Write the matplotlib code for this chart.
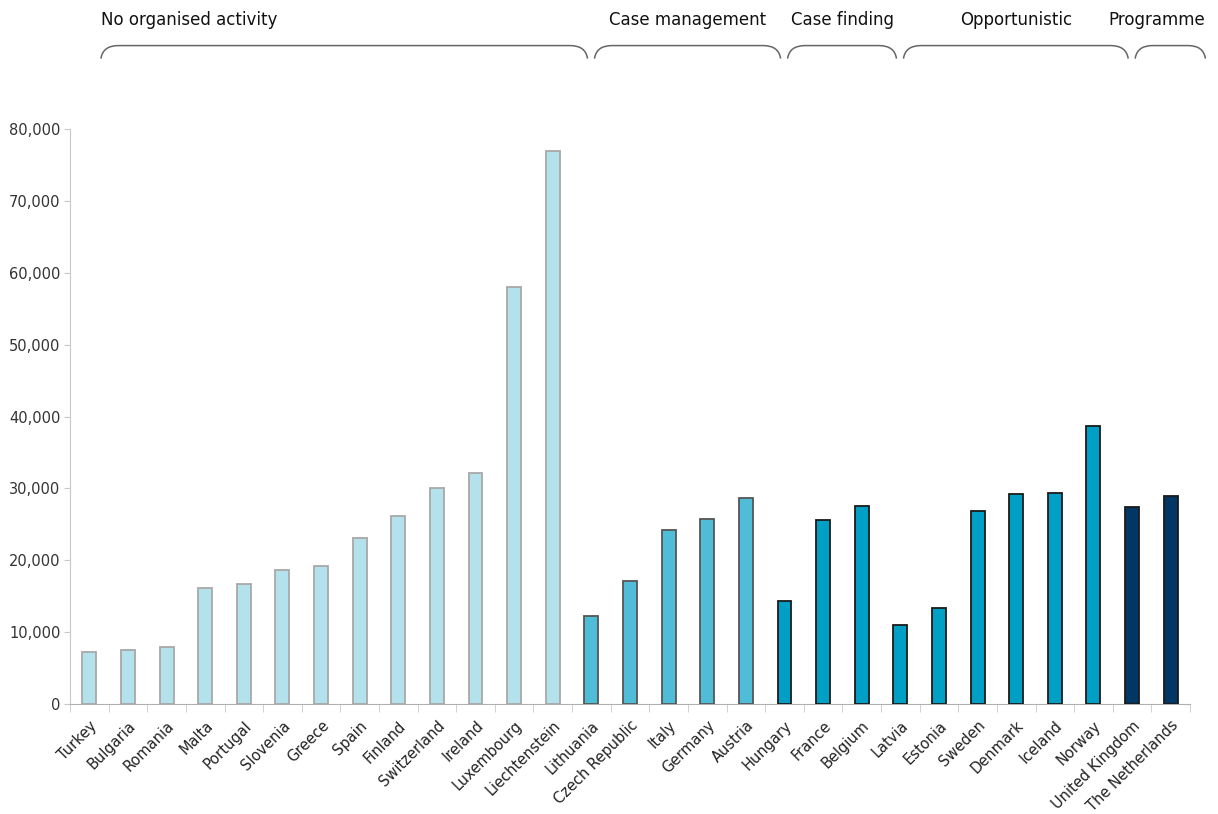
import numpy as np
import matplotlib
matplotlib.use('Agg')
import matplotlib.pyplot as plt
from matplotlib.path import Path
from matplotlib.patches import PathPatch
from matplotlib.ticker import FuncFormatter, FixedLocator

countries = ['Turkey', 'Bulgaria', 'Romania', 'Malta', 'Portugal', 'Slovenia', 'Greece',
             'Spain', 'Finland', 'Switzerland', 'Ireland', 'Luxembourg', 'Liechtenstein',
             'Lithuania', 'Czech Republic', 'Italy', 'Germany', 'Austria',
             'Hungary', 'France', 'Belgium',
             'Latvia', 'Estonia', 'Sweden', 'Denmark', 'Iceland', 'Norway',
             'United Kingdom', 'The Netherlands']
values = [7200, 7500, 8000, 16100, 16700, 18700, 19200, 23100, 26200, 30000, 32100, 58000, 77000,
          12200, 17100, 24200, 25700, 28700,
          14300, 25600, 27600,
          11000, 13400, 26900, 29200, 29400, 38700,
          27400, 28900]
groups = ['No organised activity', 'Case management', 'Case finding', 'Opportunistic', 'Programme']
group_sizes = [13, 5, 3, 6, 2]

group_face = ['#b3e1ec', '#4fbcd8', '#00a0c6', '#00a0c6', '#003764']
group_edge = ['#a8a8a8', '#555555', '#1a1a1a', '#1a1a1a', '#1a1a1a']

fig = plt.figure(figsize=(12.18, 8.14), dpi=100)
ax = fig.add_axes([0.0575, 0.135, 0.9195, 0.7065])

x = np.arange(len(countries))
faces, edges = [], []
for g, n in enumerate(group_sizes):
    faces += [group_face[g]] * n
    edges += [group_edge[g]] * n
ax.bar(x, values, width=0.36, color=faces, edgecolor=edges, linewidth=1.3, zorder=3)

ax.set_xlim(-0.5, len(countries) - 0.5)
ax.set_ylim(0, 80000)
ax.set_yticks(np.arange(0, 80001, 10000))
ax.yaxis.set_major_formatter(FuncFormatter(lambda v, p: f'{int(v):,}'))
ax.tick_params(axis='y', length=4, color='#c8c8c8', labelsize=10.5, labelcolor='#333333', pad=3)

ax.set_xticks(x)
ax.set_xticklabels(countries, rotation=45, ha='right', rotation_mode='anchor',
                   fontsize=10.5, color='#222222')
ax.tick_params(axis='x', which='major', length=0, pad=10)
ax.xaxis.set_minor_locator(FixedLocator(np.arange(-0.5, len(countries), 1.0)))
ax.tick_params(axis='x', which='minor', length=6, color='#c8c8c8')

for s in ['top', 'right']:
    ax.spines[s].set_visible(False)
ax.spines['left'].set_color('#c8c8c8')
ax.spines['bottom'].set_color('#b0b0b0')

# brackets with group names above the plot
trans = matplotlib.transforms.blended_transform_factory(ax.transData, fig.transFigure)
y_top, y_low = 0.944, 0.928
start = 0
for g, n in enumerate(group_sizes):
    x0 = start + (0.3 if g == 0 else 0.08)
    x1 = start + n - 0.1
    r = 0.45
    verts = [(x0, y_low), (x0 + 0.05, y_top), (x0 + r, y_top),
             (x1 - r, y_top),
             (x1 - 0.05, y_top), (x1, y_low)]
    codes = [Path.MOVETO, Path.CURVE3, Path.CURVE3, Path.LINETO, Path.CURVE3, Path.CURVE3]
    fig.add_artist(PathPatch(Path(verts, codes), transform=trans, fill=False,
                             edgecolor='#666666', linewidth=1.1))
    if g == 0:
        tx, ha = x0, 'left'
    elif g == len(groups) - 1:
        tx, ha = x1, 'right'
    else:
        tx, ha = (x0 + x1) / 2, 'center'
    fig.text(tx, 0.975, groups[g], transform=trans, ha=ha, va='center',
             fontsize=12, color='#111111')
    start += n

fig.savefig('out.png', dpi=100)
